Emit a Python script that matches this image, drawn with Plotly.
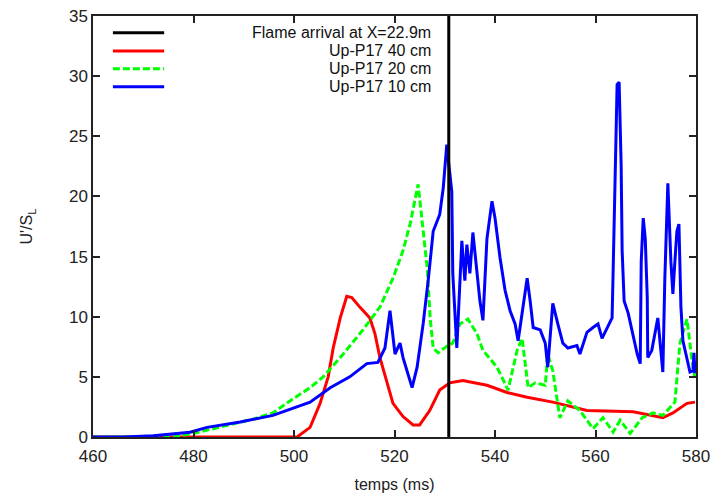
import plotly.graph_objects as go

# Flame arrival time at the probe (ms)
flame_t = [530.8, 530.8]
flame_v = [0, 35]

# Up-P17 40 cm
red_t = [460, 500.6, 503.2, 505.2, 506.8, 507.8, 509.2, 510.5, 511.5, 513.1, 515.1,
         516.1, 517.1, 518.5, 519.7, 521.7, 523.7, 525, 527, 529, 531, 533.6, 538.4,
         542.4, 546.4, 551.5, 558.3, 567.5, 571.4, 573.4, 575.4, 578.2, 579.8]
red_v = [0, 0, 0.8, 2.8, 5, 7.4, 9.9, 11.7, 11.6, 10.8, 9.9,
         8.6, 6.6, 4.5, 2.8, 1.7, 1.0, 1.0, 2.2, 3.9, 4.5, 4.7, 4.3,
         3.7, 3.3, 2.9, 2.2, 2.1, 1.8, 1.6, 2.0, 2.8, 2.9]

# Up-P17 20 cm
green_t = [460, 476, 480, 483, 486, 489, 492, 495.8, 499.2, 503.2, 505.8, 509.8,
           513.7, 517.1, 519.7, 521.7, 523.1, 524.7, 525.7, 526.5, 527.1, 527.7,
           528.7, 530.6, 531.6, 533, 534.6, 536.4, 537.6, 540.4, 542.6, 544.4,
           545.4, 546.6, 548, 550, 550.5, 551.5, 552.9, 554.5, 556.9, 559.5,
           561.5, 563.5, 564.9, 566.9, 569.3, 571.4, 573.4, 575.8, 576.8, 578.2,
           579.2, 579.8]
green_v = [0, 0, 0.3, 0.6, 0.9, 1.15, 1.5, 2.0, 3.0, 4.1, 5.0, 6.9,
           8.9, 10.8, 13.2, 15.5, 17.7, 21.0, 16.9, 14.1, 9.9, 7.4,
           7.0, 7.6, 7.8, 9.4, 9.8, 8.6, 7.2, 5.8, 3.9, 7.2,
           8.2, 4.1, 4.5, 4.3, 6.9, 5.5, 1.6, 3.0, 2.2, 0.7,
           1.6, 0.4, 1.4, 0.3, 1.6, 2.0, 1.8, 2.9, 7.8, 9.8,
           6.4, 4.9]

# Up-P17 10 cm
blue_t = [460, 466, 472, 479.3, 482.7, 489.3, 495.8, 500.6, 503.2, 507.2, 511.1,
          514.5, 516.7, 518.1, 519.1, 520.1, 521.1, 521.7, 523.5, 524.5, 525.7,
          526.7, 527.7, 529, 529.7, 530.4, 531.4, 531.6, 532.4, 533.4, 534,
          534.4, 535, 535.6, 536.4, 537, 537.6, 538.4, 539.4, 540, 541,
          542, 543, 544, 544.6, 545.6, 546.4, 547, 547.6, 549, 550,
          550.5, 551, 551.5, 552.5, 553.5, 554.5, 556.3, 556.9, 558.3, 559.5,
          560.5, 561.3, 562.3, 563.3, 563.5, 563.9, 564.3, 564.7, 565.1, 565.3,
          565.7, 566.5, 567.5, 568.3, 568.9, 569.1, 569.5, 569.9, 570.3, 570.4,
          571.2, 571.8, 572.4, 573, 573.4, 573.8, 574.2, 574.4, 575, 575.4,
          575.8, 576.2, 576.6, 577, 577.4, 578.2, 578.8, 579.4, 579.6, 579.8]
blue_v = [0, 0, 0.1, 0.4, 0.8, 1.25, 1.8, 2.5, 2.9, 4.1, 5.0,
          6.1, 6.2, 7.4, 10.5, 6.9, 7.8, 6.6, 4.1, 5.8, 9.4,
          13.0, 17.1, 18.5, 20.7, 24.3, 20.4, 13.6, 7.4, 16.3, 13.0,
          16.0, 13.6, 17.0, 13.8, 11.3, 9.7, 16.5, 19.6, 18.2, 14.9,
          12.2, 10.5, 9.4, 8.0, 10.8, 13.2, 11.3, 9.1, 8.9, 7.8,
          5.8, 8.3, 11.1, 9.4, 7.8, 7.4, 7.6, 6.9, 8.7, 9.1,
          9.4, 8.2, 9.1, 9.9, 13.6, 21.3, 29.3, 29.5, 22.7, 15.5,
          11.3, 10.3, 8.3, 6.9, 6.1, 14.6, 18.2, 16.5, 11.6, 6.6,
          7.2, 8.6, 9.9, 7.2, 5.4, 13.2, 19.6, 21.1, 14.6, 11.9,
          14.6, 17.1, 17.7, 10.8, 8.0, 6.4, 5.4, 5.5, 7.0, 5.3]

legend_labels = ["Flame arrival at X=22.9m", "Up-P17 40 cm", "Up-P17 20 cm", "Up-P17 10 cm"]
x_ticks = [460, 480, 500, 520, 540, 560, 580]
y_ticks = [0, 5, 10, 15, 20, 25, 30, 35]

STYLES = [
    dict(color="#000000", width=3),
    dict(color="#ff0000", width=3),
    dict(color="#00ff00", width=3, dash="7px,3px"),
    dict(color="#0000ff", width=3),
]

FONT = "Liberation Sans, Arial, sans-serif"
INK = "#222222"

fig = go.Figure()

series = [(red_t, red_v), (green_t, green_v), (blue_t, blue_v)]
for (t, v), style, name in zip(series, STYLES[1:], legend_labels[1:]):
    fig.add_trace(go.Scatter(x=t, y=v, mode="lines", name=name, line=style))

fig.add_trace(go.Scatter(x=flame_t, y=flame_v, mode="lines",
                         name=legend_labels[0], line=STYLES[0]))

# gnuplot-style key: sample line on the left, right-aligned text
row_y = [0.960, 0.917, 0.875, 0.832]
for label, style, yy in zip(legend_labels, STYLES, row_y):
    fig.add_shape(type="line", xref="paper", yref="paper",
                  x0=0.033, x1=0.118, y0=yy, y1=yy, line=style)
    fig.add_annotation(xref="paper", yref="paper", x=0.564, y=yy,
                       xanchor="right", yanchor="middle", showarrow=False,
                       text=label, font=dict(size=16, color="#111111"))

axis_common = dict(
    showgrid=False, zeroline=False, automargin=False,
    showline=True, linecolor=INK, linewidth=1.5, mirror="ticks",
    ticks="inside", ticklen=7, tickwidth=1.5, tickcolor=INK,
    tickfont=dict(size=17, color=INK), ticklabeloverflow="allow",
)

fig.update_xaxes(range=[460, 580], tickvals=x_ticks, ticklabelstandoff=3,
                 title=dict(text="temps (ms)", font=dict(size=16, color=INK), standoff=14),
                 **axis_common)
fig.update_yaxes(range=[0, 35], tickvals=y_ticks,
                 title=dict(text="U'/S<sub>L</sub>", font=dict(size=16, color=INK), standoff=32),
                 **axis_common)

# the page body adds 8 px around the plot, so the figure is 8 px smaller
fig.update_layout(
    width=713, height=487,
    showlegend=False,
    plot_bgcolor="white", paper_bgcolor="white",
    font=dict(family=FONT),
    margin=dict(l=85, r=25, t=8, b=58),
)

fig.write_html("out.html")
